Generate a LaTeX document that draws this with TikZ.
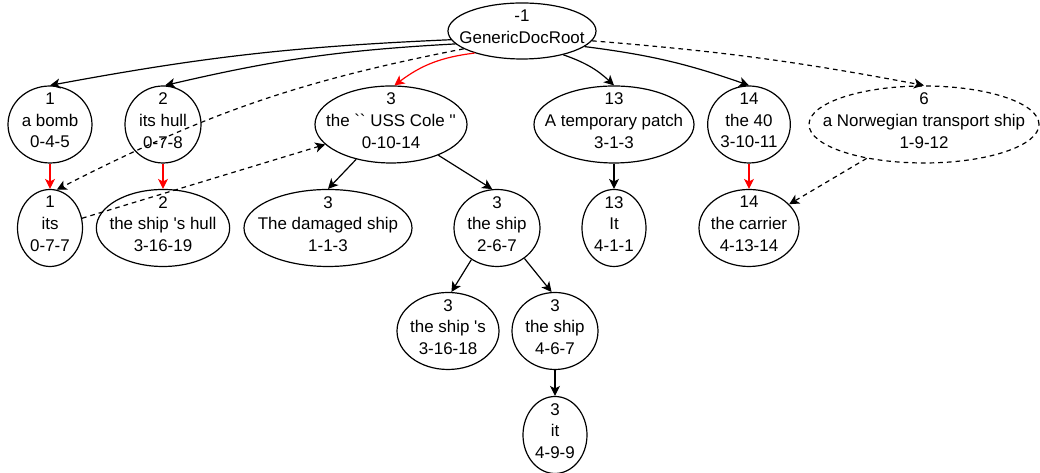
\documentclass[tikz,border=0pt]{standalone}
\usepackage{fontspec}
\newfontfamily\mentionfont{Liberation Sans}
\usetikzlibrary{shapes.geometric}
\usetikzlibrary{arrows.meta}
\tikzset{
  mention/.style={draw, ellipse, line width=0.9pt, inner sep=0pt, minimum height=57.75pt},
  mentiontext/.style={align=center, inner sep=0pt, yshift=3pt, font=\mentionfont\fontsize{12.7}{16.3}\selectfont},
  link/.style={line width=0.9pt, -{Stealth[length=7.5pt, width=7.5pt, inset=2pt]}},
  corefer/.style={link, red},
  guessed/.style={link, dash pattern=on 3.5pt off 3pt},
}
\newcommand{\mention}[5][]{\node[mention, #1, minimum width=#3pt, label={[mentiontext]center:{#5}}] (#2) at (#4) {};}

\begin{document}
\begin{tikzpicture}[x=0.75pt, y=0.75pt]
        \useasboundingbox (0,0) rectangle (1040,473);
        % root
        \mention[minimum height=42pt]{root}{111}{522,442}{-1\\GenericDocRoot}
        % row 1
        \mention{bomb}{63}{50,348.5}{1\\a bomb\\0-4-5}
        \mention{hull}{57}{163,348.5}{2\\its hull\\0-7-8}
        \mention{cole}{114}{391,348.5}{3\\the `` USS Cole ''\\0-10-14}
        \mention{patch}{120}{614,348.5}{13\\A temporary patch\\3-1-3}
        \mention{forty}{62}{749,348.5}{14\\the 40\\3-10-11}
        \mention[dash pattern=on 3.5pt off 3pt]{norwegian}{172.5}{924,348.5}{6\\a Norwegian transport ship\\1-9-12}
        % row 2
        \mention{its}{48.75}{50,245}{1\\its\\0-7-7}
        \mention{shiphull}{100}{163,245}{2\\the ship 's hull\\3-16-19}
        \mention{damaged}{126}{328,245}{3\\The damaged ship\\1-1-3}
        \mention{ship}{64.5}{497,245}{3\\the ship\\2-6-7}
        \mention{itpatch}{48}{614,245}{13\\It\\4-1-1}
        \mention{carrier}{75}{749,245}{14\\the carrier\\4-13-14}
        % row 3
        \mention{shipss}{76.5}{448,142}{3\\the ship 's\\3-16-18}
        \mention{shipb}{64.5}{555,142}{3\\the ship\\4-6-7}
        % row 4
        \mention{itship}{48}{555,38}{3\\it\\4-9-9}
        % edges from the root
        \draw[link] (root.187) to[bend right=4] (bomb.north);
        \draw[link] (root.191) to[bend right=5] (hull.87);
        \draw[corefer] (root.205) to[bend right=15] (cole.85);
        \draw[link] (root.-30) to[bend left=12] (patch.north);
        \draw[link] (root.-14) to[bend left=6] (forty.north);
        \draw[guessed] (root.-8) to[bend left=3] (norwegian.north);
        \draw[guessed] (root.197) to[bend right=8] (its.80);
        % the other edges
        \draw[corefer] (bomb) -- (its);
        \draw[corefer] (hull) -- (shiphull);
        \draw[corefer] (forty) -- (carrier);
        \draw[link] (patch) -- (itpatch);
        \draw[guessed] (its) -- (cole);
        \draw[guessed] (norwegian) -- (carrier);
        \draw[link] (cole.225) -- (damaged.north);
        \draw[link] (cole.-33) -- (ship.97);
        \draw[link] (ship.231) -- (shipss.85);
        \draw[link] (ship.-48) -- (shipb.95);
        \draw[link] (shipb) -- (itship);
\end{tikzpicture}
\end{document}
